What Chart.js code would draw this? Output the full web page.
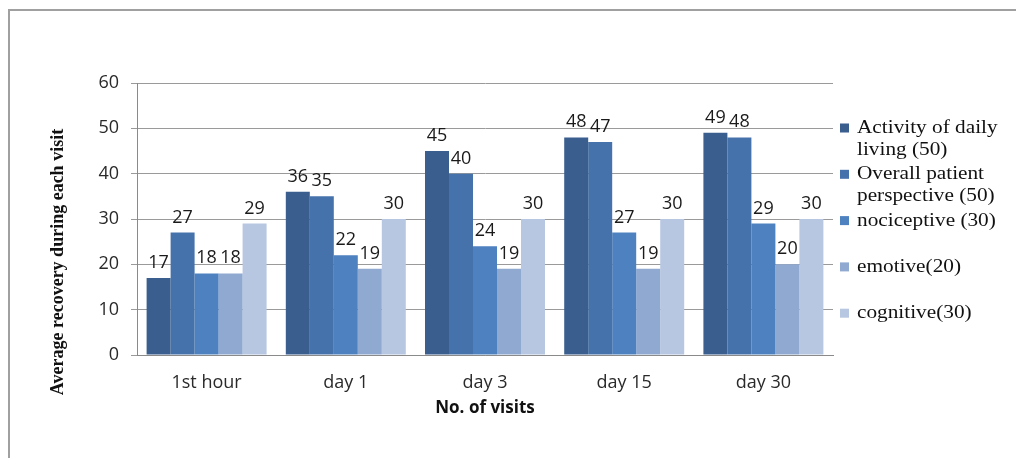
<!DOCTYPE html>
<html><head><meta charset="utf-8">
<script src="https://cdn.jsdelivr.net/npm/chart.js@4.4.1/dist/chart.umd.min.js"></script>
<style>
html,body{margin:0;padding:0;background:#fff;}
#wrap{position:relative;width:1016px;height:458px;overflow:hidden;}
#frame{position:absolute;left:8px;top:9px;width:1100px;height:500px;border-top:2px solid #a0a0a0;border-left:2px solid #a0a0a0;}
canvas{position:absolute;left:0;top:0;}
</style></head><body>
<div id="wrap"><div id="frame"></div><canvas id="c" width="1016" height="458"></canvas></div>
<script>
const categories = ["1st hour", "day 1", "day 3", "day 15", "day 30"];
const seriesNames = ["Activity of daily living (50)", "Overall patient perspective (50)", "nociceptive (30)", "emotive(20)", "cognitive(30)"];
const legendLines = [["Activity of daily", "living (50)"], ["Overall patient", "perspective (50)"], ["nociceptive (30)"], ["emotive(20)"], ["cognitive(30)"]];
const activityDaily = [17, 36, 45, 48, 49];
const overallPatient = [27, 35, 40, 47, 48];
const nociceptive = [18, 22, 24, 27, 29];
const emotive = [18, 19, 19, 19, 20];
const cognitive = [29, 30, 30, 30, 30];
const yMin = 0, yMax = 60, yStep = 10;
const yTitle = "Average recovery during each visit";
const xTitle = "No. of visits";
const colors = ["#3a5f8f", "#4672ab", "#4e81c0", "#8fa9d0", "#b8c7e1"];

const seriesValues = [activityDaily, overallPatient, nociceptive, emotive, cognitive];

const dataLabels = {
  id: 'dataLabels',
  afterDatasetsDraw(chart) {
    const ctx = chart.ctx;
    ctx.save();
    ctx.font = '18px "Open Sans"';
    ctx.fillStyle = '#1a1a1a';
    ctx.textAlign = 'center';
    ctx.textBaseline = 'alphabetic';
    chart.data.datasets.forEach((ds, i) => {
      const meta = chart.getDatasetMeta(i);
      meta.data.forEach((el, j) => {
        ctx.fillText(String(ds.data[j]), el.x, el.y - 10);
      });
    });
    ctx.restore();
  }
};

const sideLegend = {
  id: 'sideLegend',
  afterDraw(chart) {
    const ctx = chart.ctx;
    ctx.save();
    const x0 = 840, y0 = 128, gap = 46.3, lh = 22;
    chart.data.datasets.forEach((ds, i) => {
      const y = y0 + i * gap;
      ctx.fillStyle = ds.backgroundColor;
      ctx.fillRect(x0, y - 4.5, 9, 9);
      ctx.fillStyle = '#111';
      ctx.font = '19px "Liberation Serif"';
      ctx.textBaseline = 'middle';
      ctx.textAlign = 'left';
      legendLines[i].forEach((line, k) => {
        ctx.save();
        ctx.translate(857, y + k * lh);
        ctx.scale(1.12, 1);
        ctx.fillText(line, 0, 0);
        ctx.restore();
      });
    });
    ctx.restore();
  }
};

const yTitlePlugin = {
  id: 'yTitlePlugin',
  afterDraw(chart) {
    const ctx = chart.ctx;
    ctx.save();
    ctx.translate(58, 262);
    ctx.rotate(-Math.PI / 2);
    ctx.font = 'bold 18px "Liberation Serif"';
    ctx.fillStyle = '#111';
    ctx.textAlign = 'center';
    ctx.textBaseline = 'middle';
    ctx.fillText(yTitle, 0, 0);
    ctx.restore();
  }
};

new Chart(document.getElementById('c'), {
  type: 'bar',
  data: {
    labels: categories,
    datasets: seriesNames.map((name, i) => ({
      label: name,
      data: seriesValues[i],
      backgroundColor: colors[i],
      borderWidth: 0,
      categoryPercentage: 0.862,
      barPercentage: 1.0
    }))
  },
  options: {
    responsive: false,
    animation: false,
    layout: { padding: { top: 83, right: 183, bottom: 0, left: 0 } },
    plugins: {
      legend: { display: false },
      tooltip: { enabled: false }
    },
    scales: {
      x: {
        grid: { display: false, drawTicks: false },
        border: { display: true, color: '#8a8a8a', width: 1 },
        ticks: { font: { family: 'Open Sans', size: 18 }, color: '#2a2a2a', padding: 17 },
        title: { display: true, text: xTitle, font: { family: 'Open Sans', size: 17, weight: 'bold' }, color: '#111', padding: { top: 0, bottom: 40 } },
        afterFit(scale) { scale.height = 103; }
      },
      y: {
        min: yMin, max: yMax,
        ticks: { stepSize: yStep, font: { family: 'Open Sans', size: 18 }, color: '#2a2a2a', padding: 12 },
        grid: { color: '#9a9a9a', lineWidth: 1, tickLength: 6, drawTicks: true },
        border: { display: true, color: '#8a8a8a', width: 1 },
        afterFit(scale) { scale.width = 137; }
      }
    }
  },
  plugins: [dataLabels, sideLegend, yTitlePlugin]
});
</script>
</body></html>
